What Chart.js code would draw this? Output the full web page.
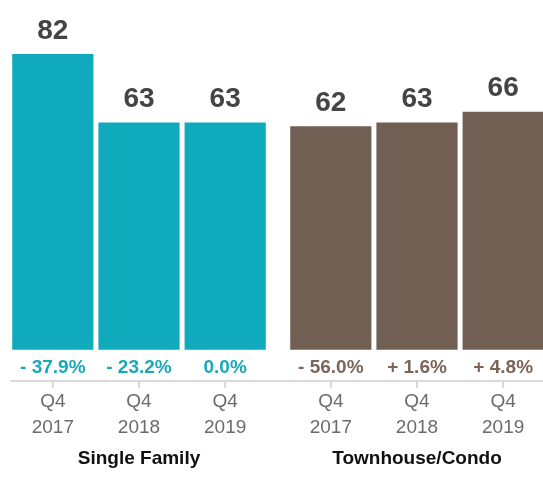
<!DOCTYPE html>
<html>
<head>
<meta charset="utf-8">
<script src="https://cdn.jsdelivr.net/npm/chart.js@4/dist/chart.umd.min.js"></script>
<style>
  html, body { margin: 0; padding: 0; background: #fff; overflow: hidden; }
  #wrap { position: absolute; left: 0; top: 0; width: 556px; height: 482px; }
</style>
</head>
<body>
<div id="wrap"><canvas id="chart"></canvas></div>
<script>
// Data
const groups = ["Single Family", "Townhouse/Condo"];
const quarters = ["Q4", "Q4", "Q4"];
const years = ["2017", "2018", "2019"];
const singleFamily = [82, 63, 63];
const townhouse = [62, 63, 66];
const singleFamilyChange = ["- 37.9%", "- 23.2%", "0.0%"];
const townhouseChange = ["- 56.0%", "+ 1.6%", "+ 4.8%"];

// Colors
const barColors = ["#10aabd", "#725f54"];
const changeColors = ["#17a9bb", "#7a6558"];
const FONT = "'Liberation Sans', Arial, Helvetica, sans-serif";

const changes = [singleFamilyChange, townhouseChange];

// one dataset per year, one category per property type
const datasets = years.map((y, k) => ({
    label: quarters[k] + " " + y,
    data: [singleFamily[k], townhouse[k]],
    backgroundColor: barColors,
    borderWidth: 0,
    categoryPercentage: 0.93,
    barPercentage: 0.942
}));

// axis line, labels above/below bars, per-bar ticks, group names
const barLabels = {
    id: "barLabels",
    afterDatasetsDraw(chart) {
        const ctx = chart.ctx;
        const axisY = chart.chartArea.bottom;
        const xScale = chart.scales.x;
        const first = chart.getDatasetMeta(0).data[0];
        ctx.save();
        // base line starts just left of the first bar
        ctx.strokeStyle = "#dadada";
        ctx.lineWidth = 2;
        ctx.beginPath();
        ctx.moveTo(first.x - first.width / 2 - 2, axisY);
        ctx.lineTo(chart.width, axisY);
        ctx.stroke();

        ctx.textAlign = "center";
        ctx.textBaseline = "middle";
        chart.data.datasets.forEach((ds, k) => {
            chart.getDatasetMeta(k).data.forEach((bar, g) => {
                // value
                ctx.fillStyle = "#444";
                ctx.font = "bold 28px " + FONT;
                ctx.fillText(ds.data[g], bar.x, bar.y - 23);
                // change
                ctx.fillStyle = changeColors[g];
                ctx.font = "bold 19px " + FONT;
                ctx.fillText(changes[g][k], bar.x, bar.base + 18);
                // tick
                ctx.strokeStyle = "#d6d6d6";
                ctx.lineWidth = 2;
                ctx.beginPath();
                ctx.moveTo(bar.x, axisY);
                ctx.lineTo(bar.x, axisY + 7);
                ctx.stroke();
                // Q4 / year
                ctx.fillStyle = "#6b6b6b";
                ctx.font = "19px " + FONT;
                ctx.fillText(quarters[k], bar.x, axisY + 21);
                ctx.fillText(years[k], bar.x, axisY + 47);
            });
        });
        // group names
        ctx.fillStyle = "#111";
        ctx.font = "bold 19px " + FONT;
        groups.forEach((name, g) => {
            ctx.fillText(name, xScale.getPixelForValue(g), axisY + 78);
        });
        ctx.restore();
    }
};

new Chart(document.getElementById("chart"), {
    type: "bar",
    data: { labels: groups, datasets: datasets },
    options: {
        responsive: true,
        maintainAspectRatio: false,
        animation: false,
        layout: { padding: { top: 0, left: 0, right: 0, bottom: 93 } },
        plugins: { legend: { display: false }, tooltip: { enabled: false } },
        scales: {
            x: {
                grid: { display: false },
                border: { display: false },
                ticks: { display: false }
            },
            y: {
                display: false,
                min: -8.7,
                max: 97
            }
        }
    },
    plugins: [barLabels]
});
</script>
</body>
</html>
